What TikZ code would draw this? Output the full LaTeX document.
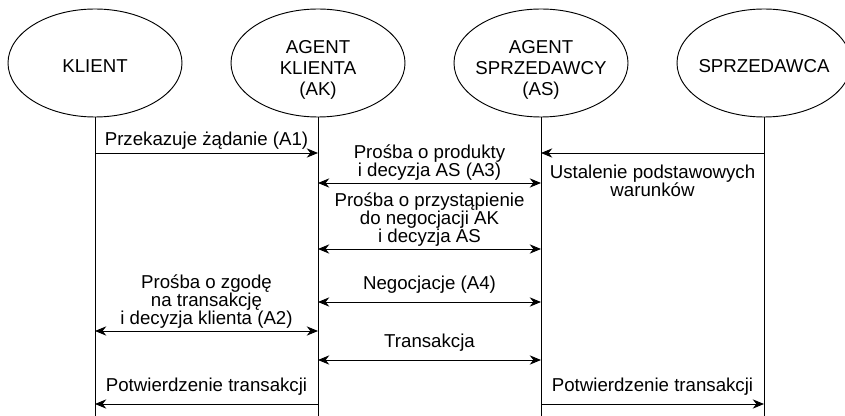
\documentclass[tikz,border=0pt]{standalone}
\usepackage{fontspec}
\setmainfont{Liberation Sans}
\usetikzlibrary{shapes.geometric,arrows.meta}

\begin{document}
\begin{tikzpicture}[x=0.75pt,y=-0.75pt,font=\fontsize{14}{13.5}\selectfont,
  actor/.style={ellipse,draw,line width=0.7pt,minimum width=130.5pt,minimum height=81pt,inner sep=0pt},
  who/.style={align=center,inner sep=0pt,font=\fontsize{14}{15.75}\selectfont},
  life/.style={line width=0.7pt},
  msg/.style={-{Stealth[length=8.5pt,width=7pt]},line width=0.7pt},
  dbl/.style={{Stealth[length=8.5pt,width=7pt]}-{Stealth[length=8.5pt,width=7pt]},line width=0.7pt},
  lbl/.style={align=center,inner sep=0pt}]
\useasboundingbox (0,0) rectangle (845,416);
% uczestnicy
\node[actor] (kl) at (95,63) {};
\node[actor] (ak) at (318,63) {};
\node[actor] (as) at (541,63) {};
\node[actor] (sp) at (764,63) {};
\node[who] (klt) at ([yshift=-2.25pt]kl.center) {KLIENT};
\node[who] (akt) at ([yshift=-5.5pt]ak.center) {AGENT\\KLIENTA\\(AK)};
\node[who] (ast) at ([yshift=-5.5pt]as.center) {AGENT\\SPRZEDAWCY\\(AS)};
\node[who] (spt) at ([yshift=-2.25pt]sp.center) {SPRZEDAWCA};
\coordinate (end) at (0,416);
\foreach \n in {kl,ak,as,sp} \draw[life] (\n) -- (\n |- end);
% komunikaty
\coordinate (k1) at (kl |- 0,153); \coordinate (a1) at (ak |- 0,153);
\draw[msg] (k1) -- node[lbl,above=2pt]{Przekazuje żądanie (A1)} (a1);
\coordinate (s2) at (sp |- 0,153); \coordinate (p2) at (as |- 0,153);
\draw[msg] (s2) -- node[lbl,below=9pt]{Ustalenie podstawowych\\warunków} (p2);
\coordinate (a3) at (ak |- 0,183); \coordinate (p3) at (as |- 0,183);
\draw[dbl] (a3) -- node[lbl,above=1.6pt]{Prośba o produkty\\i decyzja AS (A3)} (p3);
\coordinate (a4) at (ak |- 0,249); \coordinate (p4) at (as |- 0,249);
\draw[dbl] (a4) -- node[lbl,above=1.6pt]{Prośba o przystąpienie\\do negocjacji AK\\i decyzja AS} (p4);
\coordinate (k5) at (kl |- 0,331); \coordinate (a5) at (ak |- 0,331);
\draw[dbl] (k5) -- node[lbl,above=1.4pt]{Prośba o zgodę\\na transakcję\\i decyzja klienta (A2)} (a5);
\coordinate (a6) at (ak |- 0,302); \coordinate (p6) at (as |- 0,302);
\draw[dbl] (a6) -- node[lbl,above=5.9pt]{Negocjacje (A4)} (p6);
\coordinate (a7) at (ak |- 0,360); \coordinate (p7) at (as |- 0,360);
\draw[dbl] (a7) -- node[lbl,above=5.9pt]{Transakcja} (p7);
\coordinate (a8) at (ak |- 0,404); \coordinate (k8) at (kl |- 0,404);
\draw[msg] (a8) -- node[lbl,above=6.3pt]{Potwierdzenie transakcji} (k8);
\coordinate (p9) at (as |- 0,404); \coordinate (s9) at (sp |- 0,404);
\draw[msg] (p9) -- node[lbl,above=6.3pt]{Potwierdzenie transakcji} (s9);
\end{tikzpicture}
\end{document}
